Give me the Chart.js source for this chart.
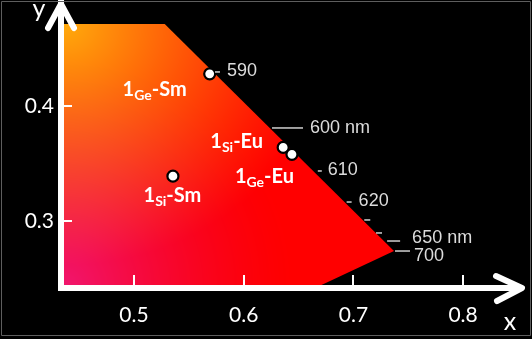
<!DOCTYPE html>
<html><head><meta charset="utf-8">
<script src="https://cdn.jsdelivr.net/npm/chart.js@4/dist/chart.umd.min.js"></script>
<style>html,body{margin:0;padding:0;background:#000;overflow:hidden}#wrap{width:532px;height:339px;position:relative}</style>
</head><body><div id="wrap"><canvas id="c" width="532" height="339"></canvas></div>
<script>
// ---- data ----
const xTicks = [0.5, 0.6, 0.7, 0.8];
const yTicks = [0.3, 0.4];
const xRange = [0.43346, 0.85369];
const yRange = [0.24174, 0.48957];
// visible part of the CIE gamut: upper boundary (top edge + spectral locus) and lower boundary
const gamutTopX = [0.43346, 0.528, 0.737];
const gamutTopY = [0.4713, 0.4713, 0.2739];
const gamutLowX = [0.43346, 0.669, 0.737];
const gamutLowY = [0.2435, 0.2435, 0.2739];
// spectral locus marks
const wlNm   = [590, 600, 610, 620, 630, 640, 650, 700];
const wlX    = [0.572, 0.624, 0.663, 0.692, 0.709, 0.7206, 0.728, 0.737];
const wlY    = [0.4296, 0.3809, 0.3435, 0.3165, 0.3009, 0.2896, 0.2826, 0.2739];
const wlText = ['590', '600 nm', '610', '620', '', '', '650 nm', '700'];
// samples
const sampleSub = ['Ge', 'Si', 'Ge', 'Si'];
const sampleIon = ['Sm', 'Eu', 'Eu', 'Sm'];
const sampleX = [0.569, 0.636, 0.644, 0.5355];
const sampleY = [0.428, 0.364, 0.358, 0.339];
const axisTitles = ['x', 'y'];

// ---- styles ----
const wlStyle = [ // [dashGap, dashLen, labelDx, labelDy]
  [2, 5, 14, -1], [2, 31, 40, 0.5], [5, 4, 15, -0.5], [2, 5, 14, -1],
  [1, 6, 0, 0], [0, 6, 0, 0], [3, 13, 28, -2.5], [1, 15, 20, 5.5]
];
const labelStyle = [ // [centerDx, baselineDy]
  [-55, 22.5], [-46.5, 1], [-27.5, 28.5], [-0.5, 25.5]
];

let fillPattern = null;
function getFill(chart) {
  if (fillPattern) return fillPattern;
  const xs = chart.scales.x, ys = chart.scales.y;
  if (!xs || !ys || !chart.chartArea) return '#ff2020';
  const w = chart.width, h = chart.height;
  const ax = xs.getPixelForValue(gamutTopX[0]) + 3, ay = ys.getPixelForValue(gamutTopY[0]);
  const bx = ax, by = ys.getPixelForValue(gamutLowY[0]);
  const off = document.createElement('canvas'); off.width = w; off.height = h;
  const o = off.getContext('2d'); const img = o.createImageData(w, h); const d = img.data;
  for (let py = 0; py < h; py++) for (let px = 0; px < w; px++) {
    const d1 = Math.hypot(px - ax, (py - ay) * 1.1);
    const g1 = Math.max(0, 1 - d1 / 265);
    const d2 = Math.hypot(px - bx, py - by);
    const p = Math.max(0, 1 - d2 / 230);
    const i = (py * w + px) * 4;
    d[i] = 255 - 14 * p;
    d[i + 1] = 170 * Math.pow(g1, 1.1) + 22 * p * p;
    d[i + 2] = 12 * g1 + 110 * Math.pow(p, 1.4);
    d[i + 3] = 255;
  }
  o.putImageData(img, 0, 0);
  fillPattern = chart.ctx.createPattern(off, 'no-repeat');
  return fillPattern;
}

const overlay = {
  id: 'overlay',
  beforeDraw(chart) {
    const c = chart.ctx; c.save(); c.fillStyle = '#000'; c.fillRect(0, 0, chart.width, chart.height); c.restore();
  },
  afterDraw(chart) {
    const c = chart.ctx, xs = chart.scales.x, ys = chart.scales.y, ca = chart.chartArea;
    c.save();
    // inward tick marks
    c.strokeStyle = '#fff'; c.lineWidth = 2;
    xs.ticks.forEach(t => { const px = Math.round(xs.getPixelForValue(t.value)); c.beginPath(); c.moveTo(px, ca.bottom); c.lineTo(px, ca.bottom - 13); c.stroke(); });
    ys.ticks.forEach(t => { const py = Math.round(ys.getPixelForValue(t.value)); c.beginPath(); c.moveTo(ca.left, py); c.lineTo(ca.left + 11, py); c.stroke(); });
    // arrows
    c.lineWidth = 6; c.lineCap = 'round'; c.lineJoin = 'round';
    c.beginPath(); c.moveTo(ca.left - 13, ca.top + 25); c.lineTo(ca.left, ca.top + 1); c.lineTo(ca.left + 13, ca.top + 25); c.stroke();
    c.beginPath(); c.moveTo(ca.right - 26, ca.bottom - 12); c.lineTo(ca.right, ca.bottom); c.lineTo(ca.right - 25, ca.bottom + 13); c.stroke();
    // axis titles
    c.fillStyle = '#fff'; c.font = '25px Lato'; c.textAlign = 'center'; c.textBaseline = 'alphabetic';
    c.fillText(axisTitles[0], ca.right - 12, ca.bottom + 42);
    c.fillText(axisTitles[1], ca.left - 22, ca.top + 14);
    // spectral locus marks
    c.strokeStyle = '#d0d0d0'; c.lineWidth = 1.5; c.lineCap = 'butt';
    c.fillStyle = '#dcdcdc'; c.font = '18px "Liberation Sans", Arial'; c.textAlign = 'left'; c.textBaseline = 'middle';
    wlNm.forEach((nm, i) => {
      const px = xs.getPixelForValue(wlX[i]), py = ys.getPixelForValue(wlY[i]);
      const s = wlStyle[i];
      c.beginPath(); c.moveTo(px + s[0], py); c.lineTo(px + s[0] + s[1], py); c.stroke();
      if (wlText[i]) c.fillText(wlText[i], px + s[2], py + s[3]);
    });
    // sample labels
    c.fillStyle = '#fff'; c.textBaseline = 'alphabetic';
    const big = 'bold 20px Lato', small = 'bold 14px Lato';
    sampleX.forEach((v, i) => {
      const px = xs.getPixelForValue(v), py = ys.getPixelForValue(sampleY[i]);
      const parts = [['1', big, 0], [sampleSub[i], small, 4], ['-' + sampleIon[i], big, 0]];
      let tw = 0; parts.forEach(p => { c.font = p[1]; tw += c.measureText(p[0]).width; });
      let x0 = px + labelStyle[i][0] - tw / 2; const yb = py + labelStyle[i][1];
      parts.forEach(p => { c.font = p[1]; c.fillText(p[0], x0, yb + p[2]); x0 += c.measureText(p[0]).width; });
    });
    // frame
    c.strokeStyle = '#5e5e5e'; c.lineWidth = 1; c.strokeRect(1.5, 1.5, 529, 334);
    c.restore();
  }
};

new Chart(document.getElementById('c'), {
  type: 'scatter',
  data: {
    datasets: [
      {
        type: 'scatter', label: 'samples', order: 0,
        data: sampleX.map((x, i) => ({ x, y: sampleY[i] })),
        pointRadius: 5.5, pointHoverRadius: 5.5, pointBackgroundColor: '#fff', pointBorderColor: '#000', pointBorderWidth: 2.2
      },
      {
        type: 'line', label: 'gamut', order: 1, fill: '+1',
        data: gamutTopX.map((x, i) => ({ x, y: gamutTopY[i] })),
        pointRadius: 0, borderWidth: 0, borderColor: 'rgba(0,0,0,0)', tension: 0,
        backgroundColor: (ctx) => getFill(ctx.chart)
      },
      {
        type: 'line', label: 'gamutLow', order: 2, fill: false,
        data: gamutLowX.map((x, i) => ({ x, y: gamutLowY[i] })),
        pointRadius: 0, borderWidth: 0, borderColor: 'rgba(0,0,0,0)', tension: 0
      }
    ]
  },
  options: {
    responsive: false, animation: false, events: [],
    layout: { autoPadding: false, padding: { top: 3, right: 10, left: 0, bottom: 0 } },
    plugins: { legend: { display: false }, tooltip: { enabled: false } },
    scales: {
      x: {
        type: 'linear', min: xRange[0], max: xRange[1],
        afterBuildTicks: s => { s.ticks = xTicks.map(v => ({ value: v })); },
        afterFit: s => { s.height = 51; s.paddingLeft = 0; s.paddingRight = 0; },
        grid: { display: false, drawTicks: false },
        border: { display: true, color: '#fff', width: 6, z: 1 },
        ticks: { color: '#fff', font: { family: 'Lato', size: 21 }, padding: 15, callback: v => v.toFixed(1), maxRotation: 0, autoSkip: false }
      },
      y: {
        type: 'linear', min: yRange[0], max: yRange[1],
        afterBuildTicks: s => { s.ticks = yTicks.map(v => ({ value: v })); },
        afterFit: s => { s.width = 61; s.paddingTop = 0; s.paddingBottom = 0; },
        grid: { display: false, drawTicks: false },
        border: { display: true, color: '#fff', width: 6, z: 1 },
        ticks: { color: '#fff', font: { family: 'Lato', size: 21 }, padding: 7, callback: v => v.toFixed(1), autoSkip: false }
      }
    }
  },
  plugins: [overlay]
});
</script></body></html>
